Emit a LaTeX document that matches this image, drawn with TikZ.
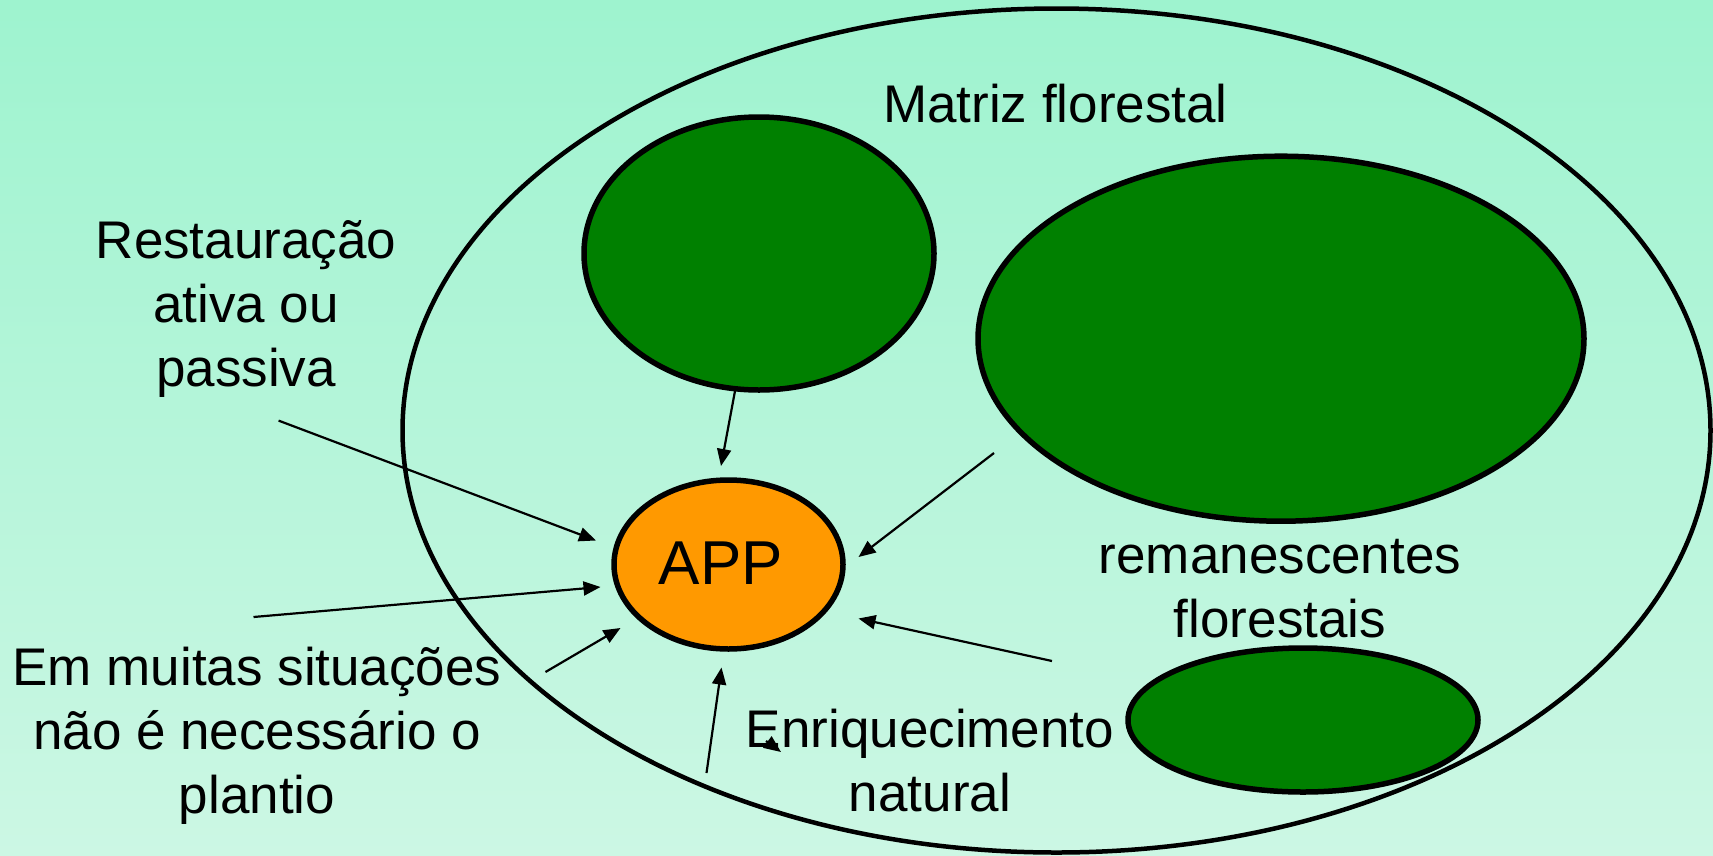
\documentclass[tikz,border=0pt]{standalone}
\usepackage{fontspec}
\setmainfont{Liberation Sans}
\usetikzlibrary{shapes.geometric,arrows.meta}
\definecolor{bgtop}{RGB}{158,243,207}
\definecolor{bgbot}{RGB}{204,247,228}
\definecolor{forest}{RGB}{0,128,0}
\definecolor{apporange}{RGB}{255,153,0}
\begin{document}
\begin{tikzpicture}[x=1pt,y=-1pt,
  blob/.style={ellipse,draw=black,line width=5.5pt,inner sep=0pt,outer sep=0pt},
  lbl/.style={font=\fontsize{53}{64}\selectfont,align=center,inner sep=0pt,anchor=base},
  arr/.style={line width=2.2pt,-{Triangle[length=17pt,width=14pt]}}]
\useasboundingbox (0,0) rectangle (1713,855);
\shade[top color=bgtop,bottom color=bgbot] (0,0) rectangle (1713,855);

% ellipses
\node[blob,line width=4.5pt,minimum width=1308,minimum height=844] (outer) at (1056.5,430.5) {};
\node[blob,fill=forest,minimum width=350,minimum height=273] (topf) at (759,253.5) {};
\node[blob,fill=forest,minimum width=606,minimum height=365] (bigf) at (1281,338.7) {};
\node[blob,fill=forest,minimum width=350,minimum height=144] (smallf) at (1303,720) {};
\node[blob,fill=apporange,minimum width=229,minimum height=169] (app) at (728.5,564.5) {};

% labels (anchor = baseline of last line)
\node[lbl,font=\fontsize{62}{70}\selectfont] (apptxt) at (721,584) {APP};
\node[lbl] (matriz) at (1055.5,122) {Matriz florestal};
\node[lbl] (rest) at (246,386) {Restauração\\ativa ou\\passiva};
\node[lbl] (reman) at (1280,637) {remanescentes\\florestais};
\node[lbl] (muitas) at (257,813) {Em muitas situações\\não é necessário o\\plantio};
\node[lbl] (enriq) at (930,811) {Enriquecimento\\natural};

% arrow end points
\coordinate (s1) at (735,391);   \coordinate (e1) at (721,466);
\coordinate (s2) at (278.6,420.6); \coordinate (e2) at (596,540.5);
\coordinate (s3) at (253.5,617); \coordinate (e3) at (600.5,587);
\coordinate (s4) at (545.5,672); \coordinate (e4) at (620.5,628);
\coordinate (s5) at (706.5,773); \coordinate (e5) at (721.5,667.5);
\coordinate (s6) at (994,453);   \coordinate (e6) at (858.5,557);
\coordinate (s7) at (1052,661);  \coordinate (e7) at (858.5,618.5);
\coordinate (s8) at (766,741);   \coordinate (e8) at (781,752);

\draw[arr] (s1) -- (e1);
\draw[arr] (s2) -- (e2);
\draw[arr] (s3) -- (e3);
\draw[arr] (s4) -- (e4);
\draw[arr] (s5) -- (e5);
\draw[arr] (s6) -- (e6);
\draw[arr] (s7) -- (e7);
\draw[arr] (s8) -- (e8);
\end{tikzpicture}
\end{document}
